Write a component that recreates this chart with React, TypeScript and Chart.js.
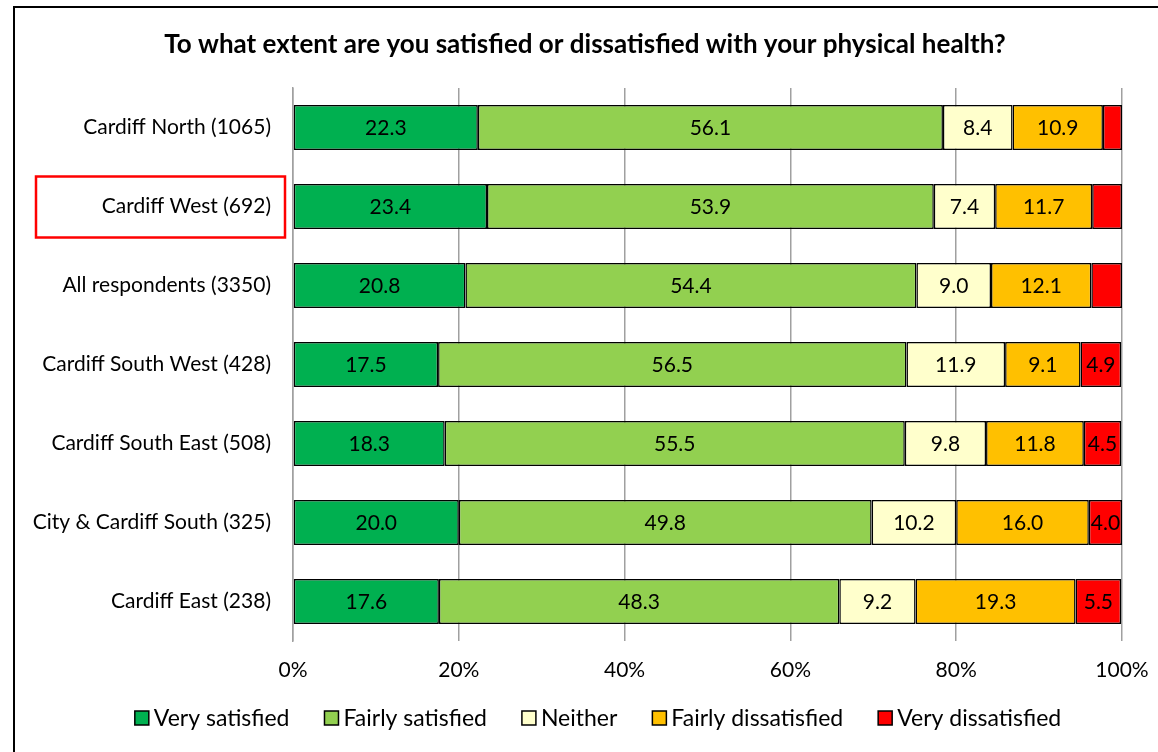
import React, { useEffect, useRef } from "react";
import { Chart, registerables } from "chart.js";

Chart.register(...registerables);

const TITLE = "To what extent are you satisfied or dissatisfied with your physical health?";
const categories = [
  "Cardiff North (1065)",
  "Cardiff West (692)",
  "All respondents (3350)",
  "Cardiff South West (428)",
  "Cardiff South East (508)",
  "City & Cardiff South (325)",
  "Cardiff East (238)",
];
const highlighted = "Cardiff West (692)";
const seriesNames = ["Very satisfied", "Fairly satisfied", "Neither", "Fairly dissatisfied", "Very dissatisfied"];
const seriesColors = ["#00B050", "#92D050", "#FFFFCC", "#FFC000", "#FF0000"];
const verySatisfied = [22.3, 23.4, 20.8, 17.5, 18.3, 20.0, 17.6];
const fairlySatisfied = [56.1, 53.9, 54.4, 56.5, 55.5, 49.8, 48.3];
const neither = [8.4, 7.4, 9.0, 11.9, 9.8, 10.2, 9.2];
const fairlyDissatisfied = [10.9, 11.7, 12.1, 9.1, 11.8, 16.0, 19.3];
const veryDissatisfied = [2.3, 3.6, 3.7, 4.9, 4.5, 4.0, 5.5];
const xTickValues = [0, 20, 40, 60, 80, 100];

const FONT = "Lato, 'Open Sans', sans-serif";

const titlePlugin = {
  id: "customTitle",
  afterDraw(chart: any) {
    const ctx = chart.ctx;
    ctx.save();
    ctx.font = `bold 26px ${FONT}`;
    ctx.fillStyle = "#000";
    ctx.textAlign = "center";
    ctx.textBaseline = "middle";
    ctx.fillText(TITLE, 585, 45);
    ctx.restore();
  },
};

const valueLabelPlugin = {
  id: "valueLabels",
  afterDatasetsDraw(chart: any) {
    const ctx = chart.ctx;
    ctx.save();
    ctx.font = `21px ${FONT}`;
    ctx.fillStyle = "#000";
    ctx.textAlign = "center";
    ctx.textBaseline = "middle";
    chart.data.datasets.forEach((ds: any, di: number) => {
      const meta = chart.getDatasetMeta(di);
      meta.data.forEach((bar: any, i: number) => {
        const v = ds.data[i];
        if (v < 4) return;
        const cx = (bar.x + bar.base) / 2;
        ctx.fillText(v.toFixed(1), cx, bar.y + 1);
      });
    });
    ctx.restore();
  },
};

const legendPlugin = {
  id: "customLegend",
  afterDraw(chart: any) {
    const ctx = chart.ctx;
    ctx.save();
    ctx.font = `23px ${FONT}`;
    const box = 14;
    const gapText = 5;
    const gapItem = 35;
    const items = chart.data.datasets.map((ds: any) => ({
      label: ds.label,
      color: ds.backgroundColor,
      w: box + gapText + ctx.measureText(ds.label).width,
    }));
    const total = items.reduce((s: number, it: any) => s + it.w, 0) + gapItem * (items.length - 1);
    let x = 598 - total / 2;
    const cy = 718;
    ctx.textBaseline = "middle";
    ctx.textAlign = "left";
    items.forEach((it: any) => {
      ctx.fillStyle = it.color;
      ctx.fillRect(x, cy - box / 2, box, box);
      ctx.strokeStyle = "#000";
      ctx.lineWidth = 1.5;
      ctx.strokeRect(x, cy - box / 2, box, box);
      ctx.fillStyle = "#000";
      ctx.fillText(it.label, x + box + gapText, cy + 1);
      x += it.w + gapItem;
    });
    ctx.restore();
  },
};

const highlightPlugin = {
  id: "highlightBox",
  afterDraw(chart: any) {
    const idx = categories.indexOf(highlighted);
    if (idx < 0) return;
    const yScale = chart.scales.y;
    const cy = yScale.getPixelForValue(idx);
    const ctx = chart.ctx;
    ctx.save();
    ctx.strokeStyle = "#FF0000";
    ctx.lineWidth = 2.5;
    ctx.strokeRect(36, cy - 30, 249, 61);
    ctx.restore();
  },
};

export default function App() {
  const canvasRef = useRef<HTMLCanvasElement | null>(null);

  useEffect(() => {
    if (!canvasRef.current) return;
    const values = [verySatisfied, fairlySatisfied, neither, fairlyDissatisfied, veryDissatisfied];
    const chart = new Chart(canvasRef.current, {
      type: "bar",
      data: {
        labels: categories,
        datasets: seriesNames.map((name, i) => ({
          label: name,
          data: values[i],
          backgroundColor: seriesColors[i],
          borderColor: "#000",
          borderWidth: 1.5,
          borderSkipped: false,
          barPercentage: 0.57,
          categoryPercentage: 1,
        })),
      },
      options: {
        indexAxis: "y",
        responsive: false,
        animation: false,
        maintainAspectRatio: false,
        layout: { padding: { top: 88, right: 36, left: 0, bottom: 0 } },
        plugins: {
          legend: { display: false },
          title: { display: false },
          tooltip: { enabled: false },
        },
        scales: {
          x: {
            stacked: true,
            min: 0,
            max: 100,
            afterBuildTicks(scale: any) {
              scale.ticks = xTickValues.map((v) => ({ value: v }));
            },
            afterFit(scale: any) {
              scale.height = 111;
              scale.paddingLeft = 0;
              scale.paddingRight = 0;
            },
            ticks: {
              callback: (v: any) => `${v}%`,
              font: { family: FONT, size: 21 },
              color: "#000",
              padding: 17,
              maxRotation: 0,
            },
            grid: { color: "#A0A0A0", lineWidth: 1.5, drawTicks: false },
            border: { display: false },
          },
          y: {
            stacked: true,
            afterFit(scale: any) {
              scale.width = 293;
            },
            ticks: {
              font: { family: FONT, size: 21 },
              color: "#000",
              padding: 22,
            },
            grid: { display: false, drawTicks: false },
            border: { display: true, color: "#A0A0A0", width: 1.5 },
          },
        },
      },
      plugins: [titlePlugin, valueLabelPlugin, legendPlugin, highlightPlugin],
    } as any);
    return () => chart.destroy();
  }, []);

  return (
    <div style={{ position: "fixed", left: 0, top: 0, width: 1158, height: 752, background: "#fff" }}>
      <div
        style={{
          position: "absolute",
          left: 13,
          top: 6,
          width: 1200,
          height: 800,
          borderLeft: "2px solid #000",
          borderTop: "2px solid #000",
        }}
      />
      <canvas ref={canvasRef} width={1158} height={752} style={{ position: "absolute", left: 0, top: 0 }} />
    </div>
  );
}
